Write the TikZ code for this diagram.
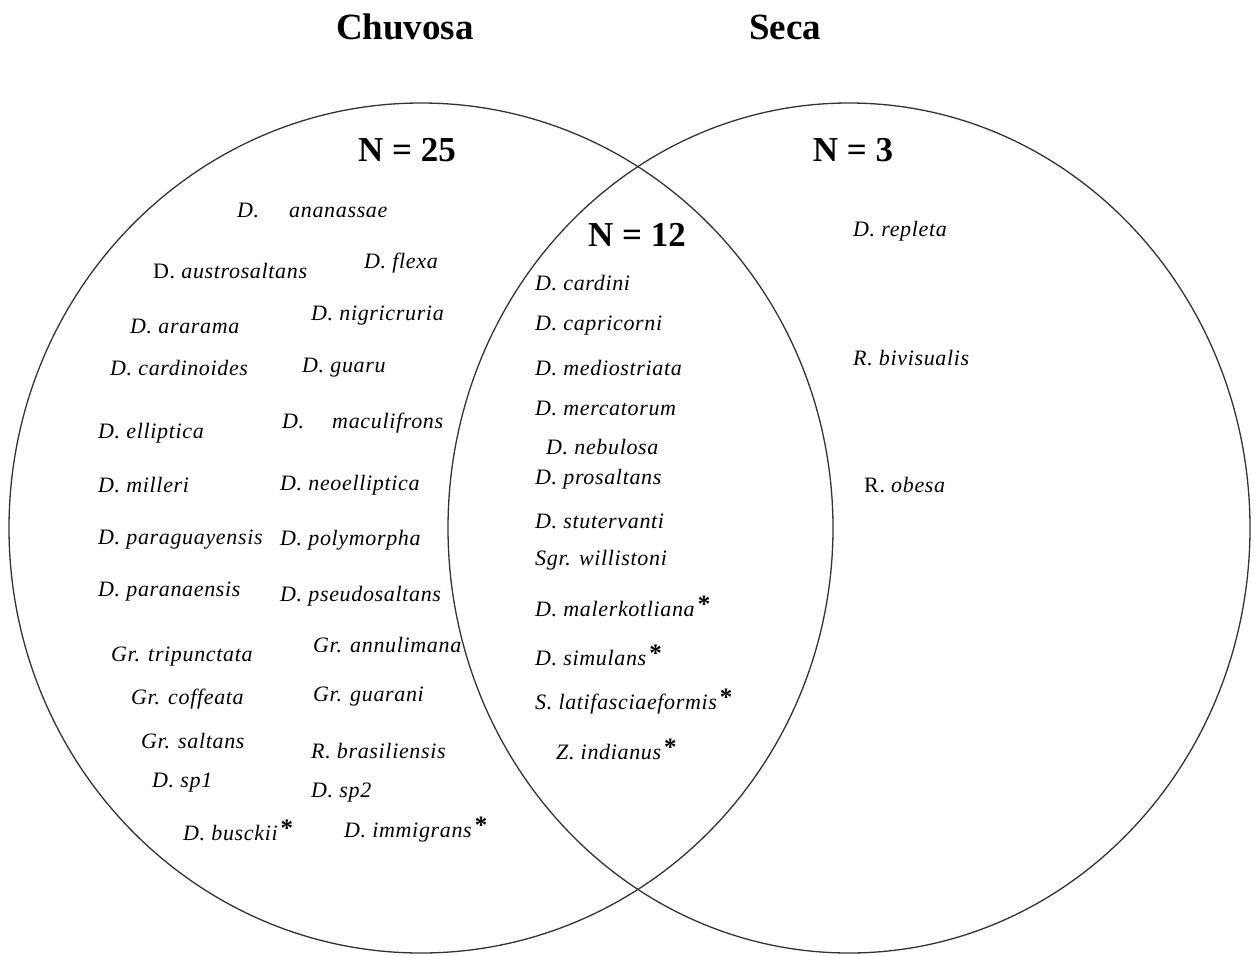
\documentclass[tikz,border=0pt]{standalone}
\usepackage{fontspec}
\setmainfont{Liberation Serif}
\newfontfamily\spfont{Liberation Serif}[LetterSpace=3]
\newcommand{\exotic}{\hspace{3pt}\raisebox{0.4ex}{\fontsize{25}{25}\selectfont\upshape\bfseries *}}
\begin{document}
\begin{tikzpicture}[x=1pt,y=-1pt,
    species/.style={anchor=west,inner sep=0pt,font=\spfont\fontsize{22}{25}\selectfont\itshape},
    count/.style={inner sep=0pt,font=\fontsize{35}{40}\selectfont\bfseries},
    season/.style={inner sep=0pt,font=\fontsize{37}{42}\selectfont\bfseries},
    ring/.style={line width=1.3pt,color=black!80}]
\useasboundingbox (0,0) rectangle (1256,956);
\coordinate (Cw) at (421,528);
\coordinate (Cd) at (849,528);
% the two seasons
\draw[ring] (Cw) ellipse [x radius=412, y radius=425];
\draw[ring] (Cd) ellipse [x radius=401, y radius=425];
\node[season] (chuvosa) at (405,27) {Chuvosa};
\node[season] (seca) at (785,27) {Seca};
\node[count] (n25) at (407,150) {N = 25};
\node[count] (n12) at (637,235) {N = 12};
\node[count] (n3) at (853,150) {N = 3};
% rainy season only
\node[species] (ananassae) at (237,210) {D.\hspace{30pt}ananassae};
\node[species] (austrosaltans) at (153,271) {\upshape D.\ \itshape austrosaltans};
\node[species] (flexa) at (364,263) {D. flexa};
\node[species] (ararama) at (130,326) {D. ararama};
\node[species] (nigricruria) at (311,316) {D. nigricruria};
\node[species] (cardinoides) at (110,368) {D. cardinoides};
\node[species] (guaru) at (302,368) {D. guaru};
\node[species] (elliptica) at (98,433) {D. elliptica};
\node[species] (maculifrons) at (282,423) {D.\hspace{28pt}maculifrons};
\node[species] (milleri) at (98,485) {D. milleri};
\node[species] (neoelliptica) at (280,485) {D. neoelliptica};
\node[species] (paraguayensis) at (98,540) {D. paraguayensis};
\node[species] (polymorpha) at (280,540) {D. polymorpha};
\node[species] (paranaensis) at (98,592) {D. paranaensis};
\node[species] (pseudosaltans) at (280,596) {D. pseudosaltans};
\node[species] (tripunctata) at (111,657) {Gr. tripunctata};
\node[species] (annulimana) at (313,645) {Gr. annulimana};
\node[species] (coffeata) at (131,699) {Gr. coffeata};
\node[species] (guarani) at (313,697) {Gr. guarani};
\node[species] (saltans) at (141,741) {Gr. saltans};
\node[species] (brasiliensis) at (311,751) {R. brasiliensis};
\node[species] (sp1) at (152,783) {D. sp1};
\node[species] (sp2) at (311,793) {D. sp2};
\node[species] (busckii) at (183,830) {D. busckii\exotic};
\node[species] (immigrans) at (344,830) {D. immigrans\exotic};
% both seasons
\node[species] (cardini) at (535,283) {D. cardini};
\node[species] (capricorni) at (535,326) {D. capricorni};
\node[species] (mediostriata) at (535,368) {D. mediostriata};
\node[species] (mercatorum) at (535,408) {D. mercatorum};
\node[species] (nebulosa) at (546,447) {D. nebulosa};
\node[species] (prosaltans) at (535,479) {D. prosaltans};
\node[species] (stutervanti) at (535,521) {D. stutervanti};
\node[species] (willistoni) at (535,560) {Sgr. willistoni};
\node[species] (malerkotliana) at (535,606) {D. malerkotliana\exotic};
\node[species] (simulans) at (535,655) {D. simulans\exotic};
\node[species] (latifasciaeformis) at (535,702) {S. latifasciaeformis\exotic};
\node[species] (indianus) at (556,749) {Z. indianus\exotic};
% dry season only
\node[species] (repleta) at (853,231) {D. repleta};
\node[species] (bivisualis) at (853,358) {R. bivisualis};
\node[species] (obesa) at (864,485) {\upshape R.\ \itshape obesa};
\end{tikzpicture}
\end{document}
